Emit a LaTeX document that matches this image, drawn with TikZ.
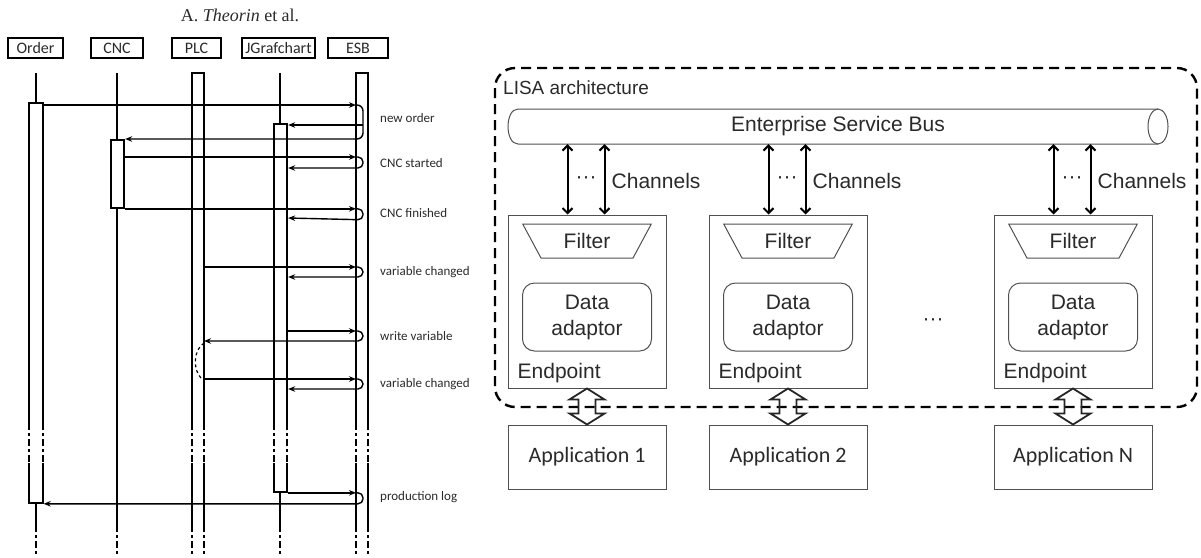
\documentclass[tikz,border=0pt]{standalone}
\usepackage{fontspec}
\newfontfamily\lisafont{Liberation Sans}
\newfontfamily\seqfont{Carlito}
\newfontfamily\paperfont{Liberation Serif}
\usepackage{xcolor}
\usetikzlibrary{shapes.geometric, arrows.meta, positioning, calc}

\definecolor{linegray}{HTML}{505050}
\definecolor{textgray}{HTML}{2A2A2A}

\begin{document}
\begin{tikzpicture}[
    x=1pt, y=-1pt,
    every node/.style={text=textgray},
    head/.style={draw, line width=1.4pt, minimum height=20pt, inner sep=0pt, font=\seqfont\fontsize{16}{18}\selectfont},
    bar/.style={draw, line width=1.8pt, fill=white, minimum width=13.5pt, inner sep=0pt, anchor=north},
    life/.style={line width=1.8pt},
    brk/.style={line width=1.8pt, dash pattern=on 7pt off 3pt on 3pt off 3pt},
    msg/.style={line width=1.4pt, -{Stealth[length=7pt,width=5.5pt]}},
    seqlabel/.style={anchor=west, inner sep=0pt, font=\seqfont\fontsize{13}{15}\selectfont},
    box/.style={draw=linegray, line width=1pt, inner sep=0pt},
    lisa/.style={font=\lisafont\fontsize{21}{26}\selectfont},
    filter/.style={box, trapezium, shape border rotate=180, trapezium left angle=59, trapezium right angle=59, trapezium stretches=true, minimum width=129pt, minimum height=34pt, lisa},
    adaptor/.style={box, rounded corners=12pt, minimum width=129pt, minimum height=68pt, align=center, lisa},
    chan/.style={line width=2pt, {Straight Barb[length=5pt,width=10pt]}-{Straight Barb[length=5pt,width=10pt]}},
    fat/.style={line width=1.8pt, draw=black!85},
    border/.style={line width=2.4pt, dash pattern=on 10pt off 6pt, rounded corners=20pt}
]
\useasboundingbox (0,0) rectangle (1201,557);

% ---- sequence diagram ----
\node[font=\paperfont\fontsize{18}{20}\selectfont] (title) at (240,15) {A.~\textit{Theorin} et al.};

\node[head, minimum width=55pt] (hOrder) at (35.5,48) {Order};
\node[head, minimum width=52pt] (hCnc) at (117,48) {CNC};
\node[head, minimum width=49pt] (hPlc) at (196.5,48) {PLC};
\node[head, minimum width=73pt] (hJg) at (278.5,48) {JGrafchart};
\node[head, minimum width=60pt] (hEsb) at (358,48) {ESB};

% lifelines
\draw[life] (36,73) -- (36,102);
\draw[life] (36,502) -- (36,525);
\draw[life] (117,73) -- (117,525);
\draw[life] (192,525) |- (204,73) -- (204,525);
\draw[life] (280,73) -- (280,123);
\draw[life, line width=2.6pt] (280,491) -- (280,525);
\draw[life] (356,525) |- (368,73) -- (368,525);

\node[bar, minimum height=400pt] (ordBar) at (36,102) {};
\node[bar, minimum height=68pt] (cncBar) at (117.5,139) {};
\node[bar, minimum height=368pt] (jgBar) at (280.5,123) {};

% broken parts
\foreach \a/\b in {29.25/42.75, 192/204, 273.75/287.25, 356/368} {
    \fill[white] (\a-2,423) rectangle (\b+2,463);
    \draw[brk] (\a,423) -- (\a,463);
    \draw[brk] (\b,423) -- (\b,463);
}
\foreach \x in {36,117,192,204,356,368}
    \draw[brk] (\x,525) -- (\x,557);
\draw[brk, line width=2.6pt] (280,525) -- (280,557);

\coordinate (esbL) at (356,73);
\coordinate (plcR) at (204,73);

% messages
\draw[msg] (ordBar.east |- 0,105) -- (esbL |- 0,105);
\draw[msg, rounded corners=6pt] (esbL |- 0,105) -- ++(7,0) -- ++(0,34) -- (cncBar.east |- 0,139);
\draw[msg] (esbL |- 0,125) ++(7,0) -- (jgBar.east |- 0,125);

\draw[msg] (cncBar.east |- 0,157) -- (esbL |- 0,157);
\draw[msg, rounded corners=5pt] (esbL |- 0,157) -- ++(7,0) -- ++(0,11) -- (jgBar.east |- 0,168);

\draw[msg] (cncBar.south east) -- (esbL |- cncBar.south);
\draw[msg, rounded corners=5pt] (esbL |- cncBar.south) -- ++(7,0) -- ++(0,11) -- (jgBar.east |- 0,218);

\draw[msg] (plcR |- 0,267) -- (esbL |- 0,267);
\draw[msg, rounded corners=5pt] (esbL |- 0,267) -- ++(7,0) -- ++(0,10) -- (jgBar.east |- 0,277);

\draw[msg] (jgBar.east |- 0,331) -- (esbL |- 0,331);
\draw[msg, rounded corners=5pt] (esbL |- 0,331) -- ++(7,0) -- ++(0,10) -- (plcR |- 0,341);

\draw[line width=1.2pt, dash pattern=on 3pt off 3pt] (plcR |- 0,343) .. controls (193,350) and (193,370) .. (201,378);

\draw[msg] (plcR |- 0,379) -- (esbL |- 0,379);
\draw[msg, rounded corners=5pt] (esbL |- 0,379) -- ++(7,0) -- ++(0,10) -- (jgBar.east |- 0,389);

\draw[msg] (jgBar.south east) -- (esbL |- jgBar.south);
\draw[msg, rounded corners=5pt] (esbL |- jgBar.south) -- ++(7,0) -- ++(0,11) -- (ordBar.south east);

\node[seqlabel] (lNew) at (380,118) {new order};
\node[seqlabel] (lStart) at (380,163) {CNC started};
\node[seqlabel] (lFin) at (380,213) {CNC finished};
\node[seqlabel] (lVar) at (380,272) {variable changed};
\node[seqlabel] (lWrite) at (380,336) {write variable};
\node[seqlabel] (lVar2) at (380,384) {variable changed};
\node[seqlabel] (lLog) at (380,497) {production log};

% ---- LISA architecture ----
\draw[border] (495,68) rectangle (1197,407);
\node[lisa, font=\lisafont\fontsize{19}{22}\selectfont, anchor=west, inner sep=0pt] (lisaTitle) at (503,88) {LISA architecture};

\node[lisa, minimum width=660pt, minimum height=35pt, inner sep=0pt] (bus) at (838,126.5) {Enterprise Service Bus};
\draw[linegray, line width=1pt] (518,109) -- (1158,109) (1158,144) -- (518,144) .. controls (504.7,144) and (504.7,109) .. (518,109);
\draw[linegray, line width=1pt] (1158,126.5) ellipse [x radius=10, y radius=17.5];

\node[box, minimum width=158pt, minimum height=173pt] (ep1) at (587,301.5) {};
\node[box, minimum width=158pt, minimum height=173pt, right=42pt of ep1] (ep2) {};
\node[box, minimum width=158pt, minimum height=173pt, right=126pt of ep2] (ep3) {};

\node[lisa, inner sep=0pt] (moreEp) at (933,322) {···};

\foreach \e/\n in {1/1, 2/2, 3/N} {
    \node[filter, below=9pt of ep\e.north] (filt\e) {Filter};
    \node[adaptor, below=24pt of filt\e] (ada\e) {Data\\adaptor};
    \node[lisa, inner sep=0pt, above right=5pt and 10pt of ep\e.south west] (epl\e) {Endpoint};
    \coordinate (ca\e) at ([xshift=60pt]ep\e.north west);
    \coordinate (cb\e) at ([xshift=97pt]ep\e.north west);
    \draw[chan] (ca\e |- bus.south) -- (ca\e);
    \draw[chan] (cb\e |- bus.south) -- (cb\e);
    \node[lisa, inner sep=0pt] (dots\e) at ([xshift=78.5pt, yshift=34pt]ep\e.north west) {···};
    \node[lisa, inner sep=0pt, anchor=west] (chl\e) at ([xshift=104pt, yshift=34pt]ep\e.north west) {Channels};
    \node[box, minimum width=158pt, minimum height=64pt, below=36pt of ep\e, font=\seqfont\fontsize{22}{24}\selectfont] (app\e) {Application \n};
    \draw[fat] (ep\e.south) -- ++(17.5,11) -- ++(-9,0) -- ++(0,14) -- ++(9,0) -- (app\e.north) -- ++(-17.5,-11) -- ++(9,0) -- ++(0,-14) -- ++(-9,0) -- cycle;
}

\end{tikzpicture}
\end{document}
